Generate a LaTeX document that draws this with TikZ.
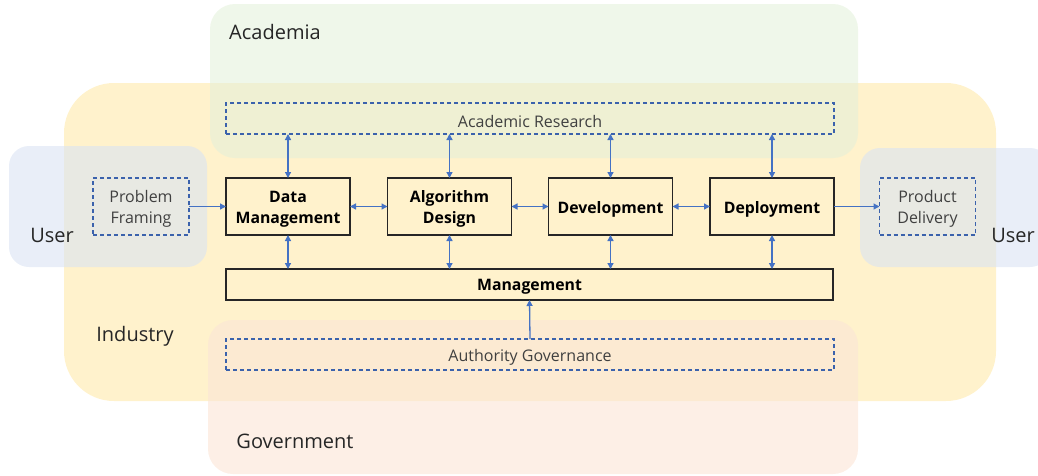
\documentclass[tikz,border=0pt]{standalone}
\usepackage{fontspec}
\setmainfont{Open Sans}
\usetikzlibrary{arrows.meta}
\definecolor{indfill}{HTML}{FFF2CC}
\definecolor{acadfill}{HTML}{E2F0D9}
\definecolor{userfill}{HTML}{DAE3F3}
\definecolor{govfill}{HTML}{FBE5D6}
\definecolor{arrblue}{HTML}{4472C4}
\definecolor{dashblue}{HTML}{3B62AC}
\definecolor{labgray}{HTML}{262626}
\definecolor{txtgray}{HTML}{404040}
\tikzset{
  region/.style={rounded corners=25pt},
  reglabel/.style={font=\fontsize{20}{24}\selectfont, text=labgray, inner sep=0pt},
  stagebox/.style={draw=black!85, line width=1.3pt, fill=indfill, minimum width=124pt, minimum height=57pt, inner sep=0pt, outer sep=0pt},
  stagetext/.style={inner sep=0pt, align=center, font=\fontsize{15.8}{21}\selectfont\bfseries, yshift=-2.5pt},
  dashbox/.style={draw=dashblue, line width=1.1pt, dash pattern=on 4pt off 3pt, inner sep=0pt, outer sep=0pt},
  dashtext/.style={inner sep=0pt, align=center, text=txtgray, font=\fontsize{16}{21}\selectfont, yshift=-2.5pt},
  tip/.tip={Triangle[length=6pt,width=6pt]},
  arr/.style={draw=arrblue, line width=1.3pt, -tip},
  darr/.style={draw=arrblue, line width=1.3pt, tip-tip}
}
\begin{document}
\begin{tikzpicture}[x=1pt,y=-1pt]
\useasboundingbox (0,0) rectangle (1038,475);
\clip (0,0) rectangle (1038,475);
% regions
\fill[indfill, rounded corners=50pt] (64,83) rectangle (996,401);
\fill[acadfill, opacity=0.55, region] (210,4) rectangle (858,158);
\fill[userfill, opacity=0.6, rounded corners=20pt] (9,146) rectangle (207,267);
\fill[userfill, opacity=0.6, rounded corners=20pt] (860,148) rectangle (1050,267);
\fill[govfill, opacity=0.6, region] (208,320) rectangle (858,474);
% region labels
\node[reglabel] (lacad) at (275,32) {Academia};
\node[reglabel] (lind) at (135,336) {Industry};
\node[reglabel] (luserl) at (52,235) {User};
\node[reglabel] (luserr) at (1013,235) {User};
\node[reglabel] (lgov) at (295,441) {Government};
% dashed boxes
\node[dashbox, minimum width=608pt, minimum height=31pt, label={[dashtext]center:Academic Research}] (ar) at (530,118.5) {};
\node[dashbox, minimum width=608pt, minimum height=31pt, label={[dashtext]center:Authority Governance}] (ag) at (530,354.5) {};
\node[dashbox, minimum width=96pt, minimum height=57pt, label={[dashtext]center:{Problem\\Framing}}] (pf) at (141,206.5) {};
\node[dashbox, minimum width=96pt, minimum height=57pt, label={[dashtext]center:{Product\\Delivery}}] (pd) at (927.5,206.5) {};
% stage boxes
\node[stagebox, label={[stagetext]center:{Data\\Management}}] (dm) at (288,206.5) {};
\node[stagebox, label={[stagetext]center:{Algorithm\\Design}}] (ad) at (449.5,206.5) {};
\node[stagebox, label={[stagetext]center:Development}] (dv) at (610.5,206.5) {};
\node[stagebox, label={[stagetext]center:Deployment}] (dp) at (772,206.5) {};
\node[stagebox, minimum width=607pt, minimum height=31pt, label={[stagetext]center:Management}] (mg) at (529.5,284.5) {};
% horizontal arrows
\draw[arr] (pf.east) -- (dm.west);
\draw[darr] (dm.east) -- (ad.west);
\draw[darr] (ad.east) -- (dv.west);
\draw[darr] (dv.east) -- (dp.west);
\draw[arr] (dp.east) -- (pd.west);
% vertical arrows
\foreach \n in {dm,ad,dv,dp}{
  \draw[darr] (\n.north |- ar.south) -- (\n.north);
  \draw[darr] (\n.south) -- (\n.south |- mg.north);
}
\draw[arr] (ag.north) -- (mg.south);
\end{tikzpicture}
\end{document}
